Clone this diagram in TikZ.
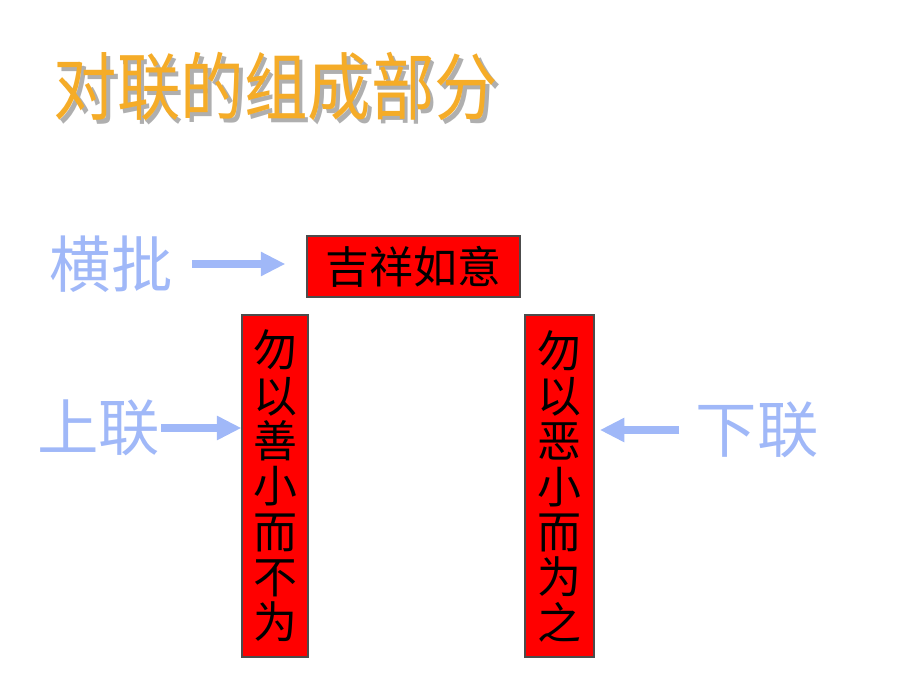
\documentclass[tikz,border=0pt]{standalone}
\usepackage{fontspec}
\newfontfamily\cjk{Noto Sans CJK SC}
\usetikzlibrary{arrows.meta,positioning}
\definecolor{labelblue}{RGB}{160,184,248}
\definecolor{titleorange}{RGB}{245,172,40}
\definecolor{shadowgray}{RGB}{175,175,175}
\newcommand{\shadowed}[1]{\rlap{\hspace{2.3pt}\raisebox{-2.3pt}{\textcolor{shadowgray}{#1}}}#1}

\begin{document}
\begin{tikzpicture}[x=0.02cm,y=-0.02cm,
  side/.style = {text=labelblue, inner sep=0pt, font=\cjk\fontsize{35}{35}\selectfont},
  scroll/.style = {draw=black!70, line width=0.6pt, fill=red, inner sep=0pt, text=black, align=center, font=\cjk\fontsize{25}{25.8}\selectfont},
  pointer/.style = {draw=labelblue, line width=4.5pt, -{Triangle[width=13pt,length=14pt]}},
]
\useasboundingbox (0,0) rectangle (920,690);
\node (title) at (276,89)[inner sep=0pt, text=titleorange, font=\cjk\fontsize{42}{42}\selectfont] {\scalebox{0.86}[1]{\shadowed{对联的组成部分}}};
\node (hengpi) at (111,264)[side] {横批};
\node (shanglian) at (99,428)[side] {上联};
\node (xialian) at (757,430)[side] {下联};
\node (top) at (413.5,266.5)[scroll, minimum width=213*0.02cm, minimum height=61*0.02cm] {吉祥如意};
\node (left) at (275,486)[scroll, minimum width=66*0.02cm, minimum height=342*0.02cm] {勿\\以\\善\\小\\而\\不\\为};
\node (right) at (559.5,486)[scroll, minimum width=69*0.02cm, minimum height=342*0.02cm] {勿\\以\\恶\\小\\而\\为\\之};
\draw[pointer, shorten <=11pt, shorten >=12pt] (hengpi.east) -- (hengpi.east -| top.west);
\draw[pointer] (shanglian.east) -- (shanglian.east -| left.west);
\draw[pointer, shorten <=9pt, shorten >=3pt] (xialian.west) -- (xialian.west -| right.east);
\end{tikzpicture}
\end{document}
